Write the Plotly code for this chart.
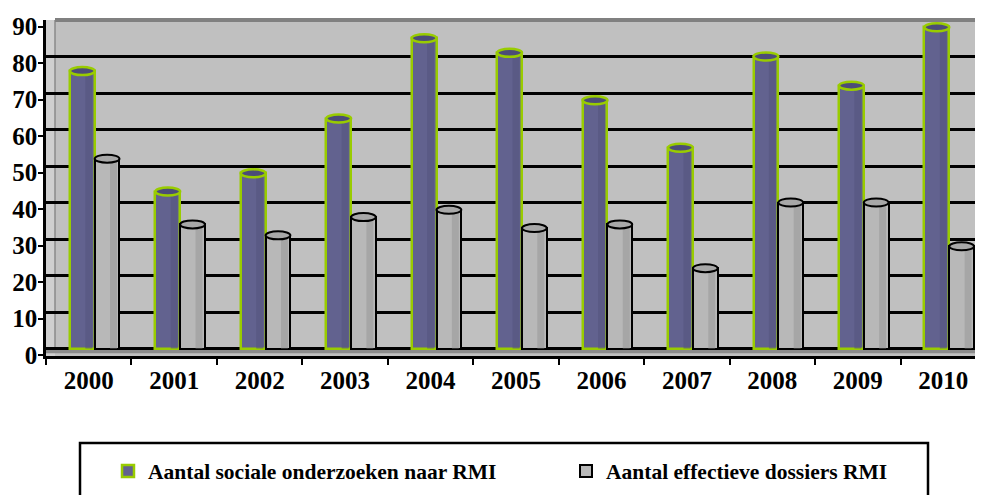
import plotly.graph_objects as go

years = ["2000", "2001", "2002", "2003", "2004", "2005", "2006", "2007", "2008", "2009", "2010"]
sociale_onderzoeken = [76, 43, 48, 63, 85, 81, 68, 55, 80, 72, 88]
effectieve_dossiers = [52, 34, 31, 36, 38, 33, 34, 22, 40, 40, 28]
y_ticks = [0, 10, 20, 30, 40, 50, 60, 70, 80, 90]

name1 = "Aantal sociale onderzoeken naar RMI"
name2 = "Aantal effectieve dossiers RMI"

# page body adds an 8px margin; the figure is sized/positioned to compensate
OFS = 8
W, H = 983 - OFS, 495 - OFS
L, R, T, B = 46 - OFS, 0, 20 - OFS, 139
PW = W - L - R
PH = H - T - B

BLUE = "#62628f"
BLUE_DARK = "#4c4c78"
GREEN = "#99cc00"
GRAY = "#b8b8b8"
GRAY_DARK = "#9a9a9a"

OFF1, OFF2, BW = -0.22, 0.07, 0.29

ymax = 90.0
px_per_unit = 328.5 / 90.0
ymin = ymax - PH / px_per_unit
shift = 6.5 / px_per_unit

FONT = "Liberation Serif, Times New Roman, serif"


def px_x(p):
    # p: pixel x in the screenshot
    return (p - OFS - L) / PW


def px_y(p):
    # p: pixel y in the screenshot
    return (H - B - (p - OFS)) / PH


fig = go.Figure()
fig.add_trace(go.Bar(
    x=years, y=sociale_onderzoeken, name="<b>" + name1 + "</b>", legend="legend",
    offset=OFF1, width=BW,
    marker=dict(color=BLUE, line=dict(color=GREEN, width=2.5)),
))
fig.add_trace(go.Bar(
    x=years, y=effectieve_dossiers, name="<b>" + name2 + "</b>", legend="legend2",
    offset=OFF2, width=BW,
    marker=dict(color=GRAY, line=dict(color="black", width=2)),
))
# invisible trace on second y-axis to carry front-axis tick labels
fig.add_trace(go.Scatter(x=years, y=[None] * len(years), yaxis="y2",
                         showlegend=False, hoverinfo="skip"))

shapes = []
# left side wall (covers gridlines)
wall_w = 9 / PW
shapes.append(dict(type="rect", xref="paper", yref="paper", x0=0, x1=wall_w, y0=0, y1=1,
                   fillcolor="#cfcfcf", line=dict(width=0), layer="between"))
shapes.append(dict(type="line", xref="paper", yref="y", x0=wall_w, x1=wall_w, y0=0, y1=ymax,
                   line=dict(color="#8a8a8a", width=1.5), layer="between"))
# floor strip
shapes.append(dict(type="rect", xref="paper", yref="y", x0=0, x1=1, y0=-1.3, y1=0,
                   fillcolor="#8c8c8c", line=dict(width=0), layer="between"))
# top border of back wall
shapes.append(dict(type="line", xref="paper", yref="paper", x0=wall_w, x1=1, y0=1, y1=1,
                   line=dict(color="#808080", width=4), layer="above"))

# cylinder shading strips and tops
for i, (a, b) in enumerate(zip(sociale_onderzoeken, effectieve_dossiers)):
    for v, off, fill, edge, shade in ((a, OFF1, BLUE_DARK, GREEN, "#55557f"),
                                      (b, OFF2, "#a8a8a8", "black", GRAY_DARK)):
        shapes.append(dict(type="rect", xref="x", yref="y", x0=i + off + BW * 0.62, x1=i + off + BW * 0.9,
                           y0=0, y1=v, fillcolor=shade, opacity=0.6, line=dict(width=0), layer="above"))
        shapes.append(dict(type="circle", xref="x", yref="y", x0=i + off, x1=i + off + BW,
                           y0=v - 1.1, y1=v + 1.1, fillcolor=fill,
                           line=dict(color=edge, width=2.5 if edge == GREEN else 2), layer="above"))

# legend frame
shapes.append(dict(type="rect", xref="paper", yref="paper", x0=px_x(80), x1=px_x(928), y0=px_y(520), y1=px_y(443),
                   fillcolor="rgba(0,0,0,0)", line=dict(color="black", width=2.5)))

legend_font = dict(family=FONT, size=21.5, color="black")

fig.update_layout(
    width=W, height=H,
    margin=dict(l=L, r=R, t=T, b=B, autoexpand=False),
    paper_bgcolor="white",
    plot_bgcolor="#c0c0c0",
    barmode="overlay",
    bargap=0,
    showlegend=True,
    legend=dict(x=px_x(108), y=px_y(471), xanchor="left", yanchor="middle",
                font=legend_font, bgcolor="rgba(0,0,0,0)", borderwidth=0),
    legend2=dict(x=px_x(566), y=px_y(471), xanchor="left", yanchor="middle",
                 font=legend_font, bgcolor="rgba(0,0,0,0)", borderwidth=0),
    xaxis=dict(type="category", range=[-0.5, 10.5 - 3 / 85.5], showgrid=False, zeroline=False,
               showline=True, linecolor="black", linewidth=2.5,
               ticks="outside", tickson="boundaries", ticklen=6, tickwidth=2, tickcolor="black",
               tickfont=dict(family=FONT, size=25, color="black", weight="bold")),
    yaxis=dict(range=[ymin, ymax], tickvals=y_ticks, showticklabels=False, ticks="",
               showgrid=True, gridcolor="black", gridwidth=2.5, zeroline=False, showline=False),
    yaxis2=dict(range=[ymin + shift, ymax + shift], overlaying="y", side="left", tickvals=y_ticks,
                showgrid=False, zeroline=False, showline=True, linecolor="black", linewidth=2.5,
                ticks="outside", ticklen=5, tickwidth=2, tickcolor="black", ticklabelstandoff=-4,
                tickfont=dict(family=FONT, size=25, color="black", weight="bold")),
    shapes=shapes,
)

fig.write_html("out.html")
